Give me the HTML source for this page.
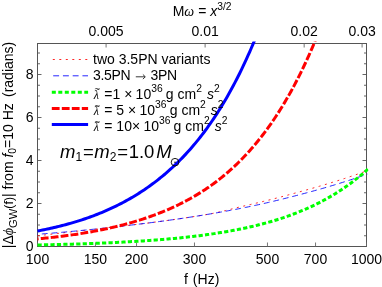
<!DOCTYPE html><html><head><meta charset="utf-8"><style>html,body{margin:0;padding:0;background:#fff;overflow:hidden}body{width:382px;height:287px;position:relative;font-family:"Liberation Sans",sans-serif}</style></head><body><svg width="382" height="287" viewBox="0 0 382 287" style="position:absolute;left:0;top:0;will-change:transform">
<defs><clipPath id="c"><rect x="36.2" y="41.5" width="332.2" height="206"/></clipPath></defs>
<rect width="382" height="287" fill="#fff"/>
<g fill="none">
<rect x="37.5" y="43.5" width="329.0" height="203.0" stroke="#555" stroke-width="1"/>
<path d="M37.50 246.5 v-4 M95.43 246.5 v-4 M136.54 246.5 v-4 M194.47 246.5 v-4 M267.46 246.5 v-4 M315.54 246.5 v-4 M366.50 246.5 v-4 M106.08 43.5 v4 M205.12 43.5 v4 M304.16 43.5 v4 M362.09 43.5 v4" stroke="#666" stroke-width="0.9"/>
<path d="M37.5 246.50 h4 M366.5 246.50 h-4 M37.5 235.75 h2.5 M366.5 235.75 h-2.5 M37.5 225.00 h2.5 M366.5 225.00 h-2.5 M37.5 214.25 h2.5 M366.5 214.25 h-2.5 M37.5 203.50 h4 M366.5 203.50 h-4 M37.5 192.75 h2.5 M366.5 192.75 h-2.5 M37.5 182.00 h2.5 M366.5 182.00 h-2.5 M37.5 171.25 h2.5 M366.5 171.25 h-2.5 M37.5 160.50 h4 M366.5 160.50 h-4 M37.5 149.75 h2.5 M366.5 149.75 h-2.5 M37.5 139.00 h2.5 M366.5 139.00 h-2.5 M37.5 128.25 h2.5 M366.5 128.25 h-2.5 M37.5 117.50 h4 M366.5 117.50 h-4 M37.5 106.75 h2.5 M366.5 106.75 h-2.5 M37.5 96.00 h2.5 M366.5 96.00 h-2.5 M37.5 85.25 h2.5 M366.5 85.25 h-2.5 M37.5 74.50 h4 M366.5 74.50 h-4 M37.5 63.75 h2.5 M366.5 63.75 h-2.5 M37.5 53.00 h2.5 M366.5 53.00 h-2.5" stroke="#555" stroke-width="0.9"/>
</g>
<g clip-path="url(#c)" fill="none">
<path d="M37.50 235.79 L39.15 235.60 L40.80 235.41 L42.45 235.22 L44.10 235.03 L45.75 234.84 L47.40 234.64 L49.04 234.45 L50.69 234.26 L52.34 234.07 L53.99 233.88 L55.64 233.69 L57.29 233.49 L58.94 233.30 L60.59 233.11 L62.24 232.92 L63.89 232.72 L65.54 232.53 L67.19 232.34 L68.84 232.15 L70.49 231.97 L72.13 231.78 L73.78 231.59 L75.43 231.40 L77.08 231.21 L78.73 231.02 L80.38 230.83 L82.03 230.64 L83.68 230.45 L85.33 230.27 L86.98 230.08 L88.63 229.89 L90.28 229.70 L91.93 229.52 L93.58 229.33 L95.22 229.15 L96.87 228.96 L98.52 228.77 L100.17 228.59 L101.82 228.40 L103.47 228.21 L105.12 228.02 L106.77 227.82 L108.42 227.63 L110.07 227.44 L111.72 227.25 L113.37 227.06 L115.02 226.87 L116.67 226.68 L118.31 226.50 L119.96 226.31 L121.61 226.13 L123.26 225.95 L124.91 225.77 L126.56 225.58 L128.21 225.40 L129.86 225.21 L131.51 225.02 L133.16 224.83 L134.81 224.63 L136.46 224.44 L138.11 224.24 L139.75 224.04 L141.40 223.84 L143.05 223.64 L144.70 223.44 L146.35 223.23 L148.00 223.02 L149.65 222.82 L151.30 222.61 L152.95 222.40 L154.60 222.18 L156.25 221.97 L157.90 221.75 L159.55 221.53 L161.20 221.31 L162.84 221.09 L164.49 220.87 L166.14 220.64 L167.79 220.42 L169.44 220.19 L171.09 219.96 L172.74 219.72 L174.39 219.49 L176.04 219.25 L177.69 219.02 L179.34 218.78 L180.99 218.54 L182.64 218.29 L184.29 218.05 L185.93 217.80 L187.58 217.55 L189.23 217.30 L190.88 217.05 L192.53 216.79 L194.18 216.54 L195.83 216.28 L197.48 216.02 L199.13 215.75 L200.78 215.49 L202.43 215.22 L204.08 214.95 L205.73 214.68 L207.38 214.41 L209.02 214.13 L210.67 213.83 L212.32 213.51 L213.97 213.17 L215.62 212.81 L217.27 212.45 L218.92 212.08 L220.57 211.70 L222.22 211.32 L223.87 210.94 L225.52 210.55 L227.17 210.15 L228.82 209.74 L230.47 209.32 L232.11 208.89 L233.76 208.46 L235.41 208.03 L237.06 207.62 L238.71 207.22 L240.36 206.83 L242.01 206.45 L243.66 206.07 L245.31 205.69 L246.96 205.31 L248.61 204.92 L250.26 204.54 L251.91 204.16 L253.55 203.77 L255.20 203.38 L256.85 202.99 L258.50 202.60 L260.15 202.20 L261.80 201.80 L263.45 201.40 L265.10 200.99 L266.75 200.58 L268.40 200.16 L270.05 199.75 L271.70 199.32 L273.35 198.90 L275.00 198.47 L276.64 198.04 L278.29 197.60 L279.94 197.17 L281.59 196.73 L283.24 196.29 L284.89 195.85 L286.54 195.41 L288.19 194.96 L289.84 194.52 L291.49 194.07 L293.14 193.63 L294.79 193.18 L296.44 192.73 L298.09 192.27 L299.73 191.82 L301.38 191.36 L303.03 190.90 L304.68 190.44 L306.33 189.98 L307.98 189.52 L309.63 189.05 L311.28 188.58 L312.93 188.11 L314.58 187.64 L316.23 187.17 L317.88 186.69 L319.53 186.21 L321.18 185.73 L322.82 185.24 L324.47 184.75 L326.12 184.25 L327.77 183.76 L329.42 183.26 L331.07 182.75 L332.72 182.24 L334.37 181.73 L336.02 181.21 L337.67 180.69 L339.32 180.17 L340.97 179.64 L342.62 179.11 L344.26 178.58 L345.91 178.04 L347.56 177.50 L349.21 176.95 L350.86 176.40 L352.51 175.84 L354.16 175.29 L355.81 174.72 L357.46 174.16 L359.11 173.59 L360.76 173.01 L362.41 172.43 L364.06 171.85 L365.71 171.26 L367.35 170.67" stroke="#ff0000" stroke-opacity="0.85" stroke-width="1" stroke-dasharray="2 4.5"/>
<path d="M37.50 234.29 L39.15 234.16 L40.80 234.04 L42.45 233.91 L44.10 233.78 L45.75 233.65 L47.40 233.52 L49.04 233.38 L50.69 233.25 L52.34 233.11 L53.99 232.97 L55.64 232.83 L57.29 232.69 L58.94 232.55 L60.59 232.40 L62.24 232.26 L63.89 232.11 L65.54 231.96 L67.19 231.81 L68.84 231.66 L70.49 231.51 L72.13 231.35 L73.78 231.20 L75.43 231.04 L77.08 230.88 L78.73 230.73 L80.38 230.56 L82.03 230.40 L83.68 230.24 L85.33 230.07 L86.98 229.91 L88.63 229.74 L90.28 229.57 L91.93 229.40 L93.58 229.23 L95.22 229.06 L96.87 228.89 L98.52 228.72 L100.17 228.54 L101.82 228.37 L103.47 228.19 L105.12 228.01 L106.77 227.83 L108.42 227.65 L110.07 227.47 L111.72 227.29 L113.37 227.10 L115.02 226.92 L116.67 226.73 L118.31 226.55 L119.96 226.36 L121.61 226.17 L123.26 225.98 L124.91 225.79 L126.56 225.60 L128.21 225.41 L129.86 225.22 L131.51 225.02 L133.16 224.83 L134.81 224.63 L136.46 224.44 L138.11 224.24 L139.75 224.04 L141.40 223.84 L143.05 223.64 L144.70 223.44 L146.35 223.23 L148.00 223.02 L149.65 222.82 L151.30 222.61 L152.95 222.40 L154.60 222.18 L156.25 221.97 L157.90 221.75 L159.55 221.53 L161.20 221.31 L162.84 221.09 L164.49 220.87 L166.14 220.64 L167.79 220.42 L169.44 220.19 L171.09 219.96 L172.74 219.72 L174.39 219.49 L176.04 219.25 L177.69 219.02 L179.34 218.78 L180.99 218.54 L182.64 218.29 L184.29 218.05 L185.93 217.80 L187.58 217.55 L189.23 217.30 L190.88 217.05 L192.53 216.79 L194.18 216.54 L195.83 216.28 L197.48 216.02 L199.13 215.75 L200.78 215.49 L202.43 215.22 L204.08 214.95 L205.73 214.68 L207.38 214.41 L209.02 214.13 L210.67 213.85 L212.32 213.57 L213.97 213.29 L215.62 213.01 L217.27 212.72 L218.92 212.43 L220.57 212.14 L222.22 211.85 L223.87 211.55 L225.52 211.26 L227.17 210.95 L228.82 210.65 L230.47 210.35 L232.11 210.04 L233.76 209.73 L235.41 209.42 L237.06 209.10 L238.71 208.78 L240.36 208.46 L242.01 208.14 L243.66 207.81 L245.31 207.47 L246.96 207.14 L248.61 206.79 L250.26 206.45 L251.91 206.10 L253.55 205.75 L255.20 205.40 L256.85 205.04 L258.50 204.68 L260.15 204.31 L261.80 203.95 L263.45 203.57 L265.10 203.20 L266.75 202.82 L268.40 202.44 L270.05 202.06 L271.70 201.67 L273.35 201.28 L275.00 200.89 L276.64 200.49 L278.29 200.10 L279.94 199.69 L281.59 199.29 L283.24 198.88 L284.89 198.47 L286.54 198.06 L288.19 197.64 L289.84 197.23 L291.49 196.81 L293.14 196.38 L294.79 195.96 L296.44 195.53 L298.09 195.10 L299.73 194.66 L301.38 194.23 L303.03 193.79 L304.68 193.35 L306.33 192.90 L307.98 192.46 L309.63 192.01 L311.28 191.56 L312.93 191.11 L314.58 190.65 L316.23 190.20 L317.88 189.74 L319.53 189.27 L321.18 188.80 L322.82 188.33 L324.47 187.86 L326.12 187.38 L327.77 186.90 L329.42 186.41 L331.07 185.92 L332.72 185.43 L334.37 184.93 L336.02 184.43 L337.67 183.92 L339.32 183.41 L340.97 182.90 L342.62 182.38 L344.26 181.86 L345.91 181.34 L347.56 180.81 L349.21 180.27 L350.86 179.73 L352.51 179.19 L354.16 178.65 L355.81 178.09 L357.46 177.54 L359.11 176.98 L360.76 176.42 L362.41 175.85 L364.06 175.28 L365.71 174.70 L367.35 174.12" stroke="#0000ff" stroke-opacity="0.85" stroke-width="1" stroke-dasharray="5.9 3.85" stroke-dashoffset="5.4"/>
<path d="M37.50 244.95 L39.15 244.92 L40.80 244.89 L42.46 244.85 L44.11 244.82 L45.76 244.79 L47.41 244.75 L49.06 244.72 L50.72 244.68 L52.37 244.64 L54.02 244.60 L55.67 244.57 L57.33 244.53 L58.98 244.49 L60.63 244.44 L62.28 244.40 L63.93 244.36 L65.59 244.32 L67.24 244.27 L68.89 244.23 L70.54 244.18 L72.19 244.13 L73.85 244.08 L75.50 244.04 L77.15 243.98 L78.80 243.93 L80.45 243.88 L82.11 243.83 L83.76 243.77 L85.41 243.72 L87.06 243.66 L88.72 243.60 L90.37 243.54 L92.02 243.48 L93.67 243.42 L95.32 243.36 L96.98 243.29 L98.63 243.23 L100.28 243.16 L101.93 243.09 L103.58 243.02 L105.24 242.95 L106.89 242.88 L108.54 242.81 L110.19 242.73 L111.84 242.65 L113.50 242.58 L115.15 242.50 L116.80 242.42 L118.45 242.33 L120.11 242.25 L121.76 242.16 L123.41 242.08 L125.06 241.99 L126.71 241.90 L128.37 241.81 L130.02 241.71 L131.67 241.62 L133.32 241.52 L134.97 241.42 L136.63 241.32 L138.28 241.21 L139.93 241.11 L141.58 241.00 L143.23 240.89 L144.89 240.78 L146.54 240.67 L148.19 240.55 L149.84 240.44 L151.50 240.32 L153.15 240.20 L154.80 240.07 L156.45 239.94 L158.10 239.82 L159.76 239.69 L161.41 239.55 L163.06 239.42 L164.71 239.28 L166.36 239.14 L168.02 238.99 L169.67 238.85 L171.32 238.70 L172.97 238.54 L174.63 238.39 L176.28 238.23 L177.93 238.07 L179.58 237.91 L181.23 237.74 L182.89 237.57 L184.54 237.40 L186.19 237.22 L187.84 237.04 L189.49 236.85 L191.15 236.67 L192.80 236.47 L194.45 236.28 L196.10 236.08 L197.75 235.88 L199.41 235.67 L201.06 235.46 L202.71 235.25 L204.36 235.03 L206.02 234.80 L207.67 234.58 L209.32 234.34 L210.97 234.11 L212.62 233.87 L214.28 233.62 L215.93 233.37 L217.58 233.11 L219.23 232.85 L220.88 232.59 L222.54 232.32 L224.19 232.04 L225.84 231.76 L227.49 231.47 L229.14 231.18 L230.80 230.88 L232.45 230.58 L234.10 230.27 L235.75 229.95 L237.41 229.63 L239.06 229.30 L240.71 228.97 L242.36 228.63 L244.01 228.28 L245.67 227.92 L247.32 227.56 L248.97 227.20 L250.62 226.82 L252.27 226.44 L253.93 226.05 L255.58 225.65 L257.23 225.24 L258.88 224.83 L260.53 224.41 L262.19 223.98 L263.84 223.54 L265.49 223.09 L267.14 222.64 L268.80 222.17 L270.45 221.70 L272.10 221.22 L273.75 220.72 L275.40 220.22 L277.06 219.71 L278.71 219.19 L280.36 218.66 L282.01 218.12 L283.66 217.56 L285.32 217.00 L286.97 216.43 L288.62 215.84 L290.27 215.25 L291.92 214.64 L293.58 214.02 L295.23 213.39 L296.88 212.74 L298.53 212.08 L300.19 211.42 L301.84 210.73 L303.49 210.04 L305.14 209.33 L306.79 208.60 L308.45 207.87 L310.10 207.11 L311.75 206.35 L313.40 205.57 L315.05 204.77 L316.71 203.96 L318.36 203.13 L320.01 202.29 L321.66 201.43 L323.31 200.55 L324.97 199.66 L326.62 198.74 L328.27 197.81 L329.92 196.87 L331.58 195.90 L333.23 194.92 L334.88 193.91 L336.53 192.89 L338.18 191.85 L339.84 190.78 L341.49 189.70 L343.14 188.59 L344.79 187.47 L346.44 186.32 L348.10 185.15 L349.75 183.95 L351.40 182.74 L353.05 181.50 L354.70 180.23 L356.36 178.94 L358.01 177.63 L359.66 176.29 L361.31 174.92 L362.97 173.53 L364.62 172.11 L366.27 170.66 L367.92 169.19" stroke="#00ff00" stroke-width="3" stroke-dasharray="4.2 2.257"/>
<path d="M37.50 238.89 L39.15 238.73 L40.79 238.57 L42.44 238.41 L44.08 238.25 L45.73 238.08 L47.37 237.91 L49.02 237.73 L50.66 237.55 L52.30 237.37 L53.95 237.18 L55.60 236.99 L57.24 236.80 L58.89 236.60 L60.53 236.40 L62.18 236.20 L63.82 235.99 L65.47 235.78 L67.11 235.56 L68.75 235.34 L70.40 235.11 L72.04 234.88 L73.69 234.64 L75.34 234.40 L76.98 234.15 L78.62 233.90 L80.27 233.65 L81.91 233.38 L83.56 233.11 L85.20 232.84 L86.85 232.56 L88.50 232.28 L90.14 231.99 L91.79 231.69 L93.43 231.39 L95.07 231.08 L96.72 230.77 L98.36 230.45 L100.01 230.12 L101.65 229.79 L103.30 229.45 L104.94 229.10 L106.59 228.75 L108.24 228.39 L109.88 228.02 L111.52 227.65 L113.17 227.27 L114.82 226.88 L116.46 226.49 L118.11 226.09 L119.75 225.68 L121.39 225.26 L123.04 224.83 L124.69 224.40 L126.33 223.96 L127.98 223.51 L129.62 223.05 L131.26 222.58 L132.91 222.11 L134.56 221.62 L136.20 221.13 L137.84 220.62 L139.49 220.11 L141.14 219.59 L142.78 219.06 L144.43 218.52 L146.07 217.97 L147.72 217.40 L149.36 216.83 L151.00 216.25 L152.65 215.66 L154.29 215.05 L155.94 214.43 L157.58 213.81 L159.23 213.17 L160.88 212.52 L162.52 211.86 L164.17 211.18 L165.81 210.49 L167.46 209.79 L169.10 209.08 L170.75 208.35 L172.39 207.61 L174.03 206.86 L175.68 206.09 L177.32 205.31 L178.97 204.51 L180.62 203.70 L182.26 202.87 L183.90 202.02 L185.55 201.16 L187.19 200.28 L188.84 199.39 L190.48 198.47 L192.13 197.54 L193.78 196.60 L195.42 195.63 L197.06 194.64 L198.71 193.64 L200.35 192.61 L202.00 191.57 L203.65 190.51 L205.29 189.42 L206.94 188.32 L208.58 187.19 L210.22 186.04 L211.87 184.87 L213.52 183.67 L215.16 182.46 L216.81 181.22 L218.45 179.95 L220.10 178.66 L221.74 177.35 L223.38 176.01 L225.03 174.64 L226.67 173.25 L228.32 171.83 L229.96 170.39 L231.61 168.91 L233.25 167.41 L234.90 165.88 L236.54 164.31 L238.19 162.72 L239.84 161.10 L241.48 159.44 L243.12 157.76 L244.77 156.04 L246.41 154.28 L248.06 152.50 L249.71 150.68 L251.35 148.82 L253.00 146.93 L254.64 145.00 L256.29 143.03 L257.93 141.03 L259.58 138.98 L261.22 136.90 L262.87 134.78 L264.51 132.61 L266.15 130.41 L267.80 128.16 L269.44 125.87 L271.09 123.53 L272.73 121.15 L274.38 118.72 L276.02 116.24 L277.67 113.72 L279.31 111.15 L280.96 108.52 L282.61 105.85 L284.25 103.13 L285.90 100.35 L287.54 97.52 L289.19 94.63 L290.83 91.69 L292.48 88.69 L294.12 85.63 L295.76 82.52 L297.41 79.34 L299.06 76.10 L300.70 72.80 L302.35 69.43 L303.99 66.00 L305.63 62.51 L307.28 58.94 L308.93 55.31 L310.57 51.60 L312.21 47.83 L313.86 43.98 L315.50 40.06 L317.15 36.06 L318.79 31.98" stroke="#ff0000" stroke-width="3" stroke-dasharray="7.8 2.2" stroke-dashoffset="6.7"/>
<path d="M37.50 231.02 L39.15 230.70 L40.79 230.38 L42.44 230.05 L44.08 229.71 L45.73 229.37 L47.37 229.02 L49.02 228.66 L50.66 228.30 L52.30 227.93 L53.95 227.55 L55.60 227.17 L57.24 226.78 L58.89 226.38 L60.53 225.97 L62.18 225.56 L63.82 225.13 L65.47 224.70 L67.11 224.26 L68.75 223.81 L70.40 223.35 L72.04 222.87 L73.69 222.39 L75.34 221.90 L76.98 221.40 L78.62 220.89 L80.27 220.37 L81.91 219.83 L83.56 219.29 L85.20 218.73 L86.85 218.17 L88.50 217.59 L90.14 217.00 L91.79 216.40 L93.43 215.78 L95.07 215.16 L96.72 214.52 L98.36 213.87 L100.01 213.21 L101.65 212.53 L103.30 211.84 L104.94 211.14 L106.59 210.42 L108.24 209.69 L109.88 208.95 L111.52 208.19 L113.17 207.42 L114.82 206.63 L116.46 205.83 L118.11 205.01 L119.75 204.18 L121.39 203.33 L123.04 202.46 L124.69 201.58 L126.33 200.69 L127.98 199.77 L129.62 198.84 L131.26 197.89 L132.91 196.93 L134.56 195.94 L136.20 194.94 L137.84 193.92 L139.49 192.88 L141.14 191.82 L142.78 190.74 L144.43 189.64 L146.07 188.52 L147.72 187.37 L149.36 186.21 L151.00 185.03 L152.65 183.82 L154.29 182.59 L155.94 181.34 L157.58 180.07 L159.23 178.77 L160.88 177.45 L162.52 176.10 L164.17 174.73 L165.81 173.33 L167.46 171.91 L169.10 170.46 L170.75 168.99 L172.39 167.48 L174.03 165.95 L175.68 164.39 L177.32 162.80 L178.97 161.18 L180.62 159.53 L182.26 157.84 L183.90 156.12 L185.55 154.37 L187.19 152.59 L188.84 150.77 L190.48 148.91 L192.13 147.02 L193.78 145.09 L195.42 143.13 L197.06 141.13 L198.71 139.09 L200.35 137.01 L202.00 134.88 L203.65 132.72 L205.29 130.52 L206.94 128.27 L208.58 125.98 L210.22 123.64 L211.87 121.26 L213.52 118.84 L215.16 116.37 L216.81 113.84 L218.45 111.27 L220.10 108.65 L221.74 105.98 L223.38 103.26 L225.03 100.49 L226.67 97.66 L228.32 94.77 L229.96 91.83 L231.61 88.84 L233.25 85.78 L234.90 82.67 L236.54 79.50 L238.19 76.26 L239.84 72.96 L241.48 69.60 L243.12 66.17 L244.77 62.68 L246.41 59.12 L248.06 55.49 L249.71 51.79 L251.35 48.02 L253.00 44.17 L254.64 40.25 L256.29 36.25 L257.93 32.18" stroke="#0000ff" stroke-width="3"/>
</g>
<g font-family="Liberation Sans, sans-serif" font-size="14" fill="#000">
<text x="37.5" y="263.5" text-anchor="middle">100</text>
<text x="95.4" y="263.5" text-anchor="middle">150</text>
<text x="136.5" y="263.5" text-anchor="middle">200</text>
<text x="194.5" y="263.5" text-anchor="middle">300</text>
<text x="267.5" y="263.5" text-anchor="middle">500</text>
<text x="315.5" y="263.5" text-anchor="middle">700</text>
<text x="366.5" y="263.5" text-anchor="middle">1000</text>
<text x="106.1" y="36.4" text-anchor="middle">0.005</text>
<text x="205.1" y="36.4" text-anchor="middle">0.01</text>
<text x="304.2" y="36.4" text-anchor="middle">0.02</text>
<text x="362.1" y="36.4" text-anchor="middle">0.03</text>
<text x="33.5" y="251.2" text-anchor="end">0</text>
<text x="33.5" y="208.2" text-anchor="end">2</text>
<text x="33.5" y="165.2" text-anchor="end">4</text>
<text x="33.5" y="122.2" text-anchor="end">6</text>
<text x="33.5" y="79.2" text-anchor="end">8</text>
</g>
<g font-family="Liberation Sans, sans-serif" font-size="14" fill="#000">
<text x="201.6" y="283.5" text-anchor="middle">f <tspan dx="1.2">(Hz)</tspan></text>
<text x="172.7" y="16">M<tspan font-family="Liberation Serif, serif" font-style="italic" font-size="14">ω</tspan> = <tspan font-style="italic">x</tspan><tspan font-size="10.3" dy="-6">3/2</tspan></text>
<text transform="translate(13.3,248.2) rotate(-90)" x="0" y="0">|Δ<tspan font-family="Liberation Serif, serif" font-style="italic" font-size="14">ϕ</tspan><tspan font-size="11.2" dy="3.8">GW</tspan><tspan dy="-4.6" font-size="12.4">(f)</tspan><tspan dy="0.8">| from </tspan><tspan font-style="italic">f</tspan><tspan font-size="10.3" dy="3">0</tspan><tspan dy="-3">=10 Hz</tspan><tspan dx="6.2">(radians)</tspan></text>
</g>
<g fill="none">
<path d="M52.8 59.5 H88" stroke="#ff0000" stroke-opacity="0.85" stroke-width="1" stroke-dasharray="2 4.5"/>
<path d="M53.2 75.8 H88" stroke="#0000ff" stroke-opacity="0.85" stroke-width="1" stroke-dasharray="5.9 3.85"/>
<path d="M51.8 92.2 H88.1" stroke="#00ff00" stroke-width="3" stroke-dasharray="4 2.5"/>
<path d="M51.8 108.4 H88.1" stroke="#ff0000" stroke-width="3" stroke-dasharray="7.8 2.2"/>
<path d="M51.8 124.6 H88.1" stroke="#0000ff" stroke-width="3"/>
</g>
<g font-family="Liberation Sans, sans-serif" font-size="14" fill="#000">
<text x="93.0" y="63.8">two 3.5PN variants</text>
<text x="93.0" y="80.2" letter-spacing="-0.3">3.5PN</text><text x="150.4" y="80.2" letter-spacing="-0.25">3PN</text>
<path d="M135.8 76.8 H145 M142.9 74.5 L145.3 76.8 L142.9 79.1" fill="none" stroke="#222" stroke-width="0.9"/>
<text x="93.7" y="98.6"><tspan font-family="Liberation Serif, serif" font-style="italic" font-size="12">λ</tspan><tspan dx="1.5"> =1 × </tspan><tspan dx="-0.6">10</tspan><tspan font-size="10.3" dy="-7">36</tspan><tspan dy="7" dx="-0.7"> g cm</tspan><tspan font-size="10.3" dy="-7">2</tspan><tspan dy="7"> </tspan><tspan font-style="italic" dx="1.1">s</tspan><tspan font-size="10.3" dy="-7">2</tspan></text><text x="94.4" y="92.39999999999999" font-size="9.5">~</text>
<text x="93.7" y="114.9"><tspan font-family="Liberation Serif, serif" font-style="italic" font-size="12">λ</tspan><tspan dx="1.5"> = 5 × </tspan><tspan dx="-0.6">10</tspan><tspan font-size="10.3" dy="-7">36</tspan><tspan dy="7" dx="-0.7"> g cm</tspan><tspan font-size="10.3" dy="-7">2</tspan><tspan dy="7"> </tspan><tspan font-style="italic" dx="1.1">s</tspan><tspan font-size="10.3" dy="-7">2</tspan></text><text x="94.4" y="108.7" font-size="9.5">~</text>
<text x="93.7" y="131.2"><tspan font-family="Liberation Serif, serif" font-style="italic" font-size="12">λ</tspan><tspan dx="1.5"> = 10× </tspan><tspan dx="-0.6">10</tspan><tspan font-size="10.3" dy="-7">36</tspan><tspan dy="7" dx="-0.7"> g cm</tspan><tspan font-size="10.3" dy="-7">2</tspan><tspan dy="7"> </tspan><tspan font-style="italic" dx="1.1">s</tspan><tspan font-size="10.3" dy="-7">2</tspan></text><text x="94.4" y="124.99999999999999" font-size="9.5">~</text>
<text x="60" y="157.5" font-size="18.5" font-style="italic">m<tspan font-size="12" dy="3.5" font-style="normal">1</tspan><tspan dy="-3.5" dx="0.8" font-style="normal">=</tspan><tspan dx="0.6">m</tspan><tspan font-size="12" dy="3.5" font-style="normal">2</tspan><tspan dy="-3.5" dx="0.8" font-style="normal">=</tspan><tspan font-style="normal" dx="0.6">1.0 </tspan><tspan dx="-3.2">M</tspan></text>
<circle cx="175.0" cy="162.2" r="3.8" fill="none" stroke="#000" stroke-width="0.9"/><circle cx="175.0" cy="162.2" r="0.75" fill="#000"/>
</g>
</svg></body></html>
